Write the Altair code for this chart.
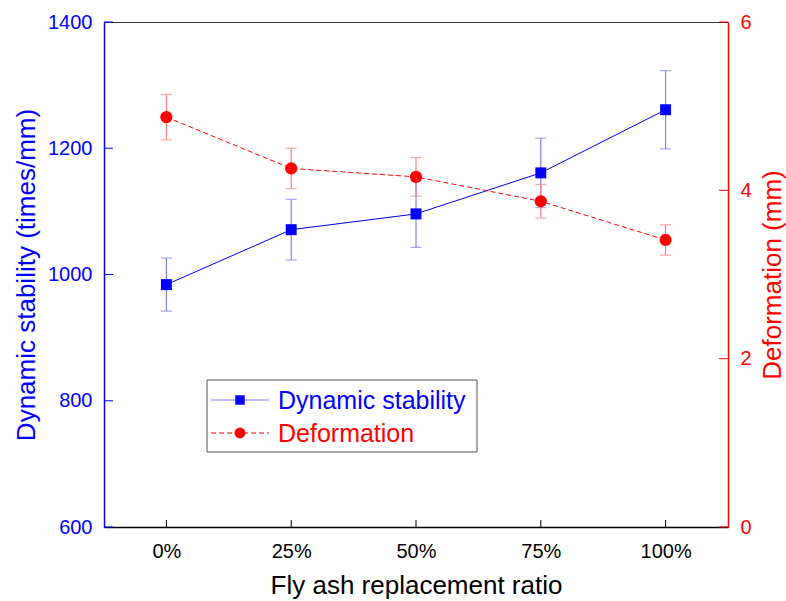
import altair as alt
import pandas as pd

ratio_labels = ["0%", "25%", "50%", "75%", "100%"]
ratio_pos = [0, 1, 2, 3, 4]
stability = [984, 1071, 1096, 1161, 1261]
stability_err = [42, 48, 53, 55, 62]
deformation = [4.87, 4.26, 4.16, 3.87, 3.41]
deformation_err = [0.27, 0.24, 0.23, 0.20, 0.18]
left_ticks = [600, 800, 1000, 1200, 1400]
right_ticks = [0, 2, 4, 6]

BLUE = "#0000ff"
RED = "#ff0000"
FONT = "Liberation Sans"
W, H = 624, 505

df = pd.DataFrame({
    "pos": ratio_pos,
    "label": ratio_labels,
    "stab": stability,
    "stab_lo": [v - e for v, e in zip(stability, stability_err)],
    "stab_hi": [v + e for v, e in zip(stability, stability_err)],
    "def": deformation,
    "def_lo": [v - e for v, e in zip(deformation, deformation_err)],
    "def_hi": [v + e for v, e in zip(deformation, deformation_err)],
})
lt = pd.DataFrame({"v": left_ticks})
rt = pd.DataFrame({"v": right_ticks})
one = pd.DataFrame({"a": [0]})

label_expr = "[" + ",".join("'%s'" % s for s in ratio_labels) + "][datum.value]"
xscale = alt.Scale(domain=[-0.5, 4.5], nice=False, zero=False)
x_axis = alt.Axis(values=ratio_pos, labelExpr=label_expr,
                  title="Fly ash replacement ratio", ticks=False,
                  labelPadding=14, titlePadding=11, domainColor="black",
                  labelColor="black", titleColor="black", grid=False)


def X(field):
    return alt.X(field, scale=xscale, axis=x_axis, title="Fly ash replacement ratio")


yl_scale = alt.Scale(domain=[600, 1400], nice=False, zero=False)
yr_scale = alt.Scale(domain=[0, 6], nice=False, zero=False)
yl_axis = alt.Axis(orient="left", values=left_ticks, title="Dynamic stability (times/mm)",
                   format="d", ticks=False, labelPadding=12, titlePadding=8,
                   labelColor=BLUE, titleColor=BLUE, domainColor=BLUE, grid=False)
yr_axis = alt.Axis(orient="right", values=right_ticks, title="Deformation (mm)",
                   format="d", ticks=False, labelPadding=12, titlePadding=8,
                   titleAngle=270, titleBaseline="top",
                   labelColor=RED, titleColor=RED, domainColor=RED, grid=False)


def YL(field):
    return alt.Y(field, scale=yl_scale, axis=yl_axis, title="Dynamic stability (times/mm)")


def YR(field):
    return alt.Y(field, scale=yr_scale, axis=yr_axis, title="Deformation (mm)")


base = alt.Chart(df)

# Left (dynamic stability)
s_err = base.mark_rule(color="#8080ff", strokeWidth=1.2).encode(
    x=X("pos:Q"), y=YL("stab_lo:Q"), y2="stab_hi:Q")
s_cap_lo = base.mark_tick(color="#8080ff", orient="horizontal", size=11, thickness=1.2).encode(
    x=X("pos:Q"), y=YL("stab_lo:Q"))
s_cap_hi = base.mark_tick(color="#8080ff", orient="horizontal", size=11, thickness=1.2).encode(
    x=X("pos:Q"), y=YL("stab_hi:Q"))
s_line = base.mark_line(color=BLUE, strokeWidth=1).encode(x=X("pos:Q"), y=YL("stab:Q"))
s_pts = base.mark_point(shape="square", filled=True, color=BLUE, size=120, opacity=1).encode(
    x=X("pos:Q"), y=YL("stab:Q"))
s_ticks = alt.Chart(lt).mark_rule(color=BLUE, strokeWidth=1).encode(
    x=alt.value(0), x2=alt.value(9), y=YL("v:Q"))
x_ticks = base.mark_rule(color="black", strokeWidth=1).encode(
    x=X("pos:Q"), y=alt.value(H), y2=alt.value(H - 7))

left = alt.layer(s_line, s_err, s_cap_lo, s_cap_hi, s_pts, s_ticks, x_ticks)

# Right (deformation)
d_err = base.mark_rule(color="#ff8080", strokeWidth=1.2).encode(
    x=X("pos:Q"), y=YR("def_lo:Q"), y2="def_hi:Q")
d_cap_lo = base.mark_tick(color="#ff8080", orient="horizontal", size=11, thickness=1.2).encode(
    x=X("pos:Q"), y=YR("def_lo:Q"))
d_cap_hi = base.mark_tick(color="#ff8080", orient="horizontal", size=11, thickness=1.2).encode(
    x=X("pos:Q"), y=YR("def_hi:Q"))
d_line = base.mark_line(color=RED, strokeWidth=1, strokeDash=[5, 3]).encode(
    x=X("pos:Q"), y=YR("def:Q"))
d_pts = base.mark_point(shape="circle", filled=True, color=RED, size=150, opacity=1).encode(
    x=X("pos:Q"), y=YR("def:Q"))
d_ticks = alt.Chart(rt).mark_rule(color=RED, strokeWidth=1).encode(
    x=alt.value(W - 9), x2=alt.value(W), y=YR("v:Q"))

right = alt.layer(d_line, d_err, d_cap_lo, d_cap_hi, d_pts, d_ticks)

main = alt.layer(left, right).resolve_scale(y="independent")

# Legend (drawn manually)
lg = alt.Chart(one)
box = lg.mark_rect(fill="white", stroke="#555555", strokeWidth=1).encode(
    x=alt.value(103), x2=alt.value(373), y=alt.value(358), y2=alt.value(430))
lb_line = lg.mark_rule(color="#8080ff", strokeWidth=1).encode(
    x=alt.value(107), x2=alt.value(165), y=alt.value(378))
lb_pt = lg.mark_point(shape="square", filled=True, color=BLUE, size=90, opacity=1).encode(
    x=alt.value(136), y=alt.value(378))
lb_txt = lg.mark_text(text="Dynamic stability", color=BLUE, font=FONT, fontSize=25,
                      align="left", baseline="middle").encode(x=alt.value(174), y=alt.value(379))
lr_line = lg.mark_rule(color=RED, strokeWidth=1, strokeDash=[5, 3]).encode(
    x=alt.value(107), x2=alt.value(165), y=alt.value(411))
lr_pt = lg.mark_point(shape="circle", filled=True, color=RED, size=120, opacity=1).encode(
    x=alt.value(136), y=alt.value(411))
lr_txt = lg.mark_text(text="Deformation", color=RED, font=FONT, fontSize=25,
                      align="left", baseline="middle").encode(x=alt.value(174), y=alt.value(412))

chart = alt.layer(main, box, lb_line, lb_pt, lb_txt, lr_line, lr_pt, lr_txt).properties(
    width=W, height=H,
    autosize=alt.AutoSizeParams(type="none"),
    padding={"left": 104, "top": 22, "right": 58, "bottom": 74},
).configure_view(
    stroke="#333333", strokeWidth=1
).configure_axis(
    labelFont=FONT, titleFont=FONT, labelFontSize=20, titleFontSize=26,
    titleFontWeight="normal", domainWidth=1.5
)

chart.save("out.html", embed_options={"renderer": "svg", "actions": False})
